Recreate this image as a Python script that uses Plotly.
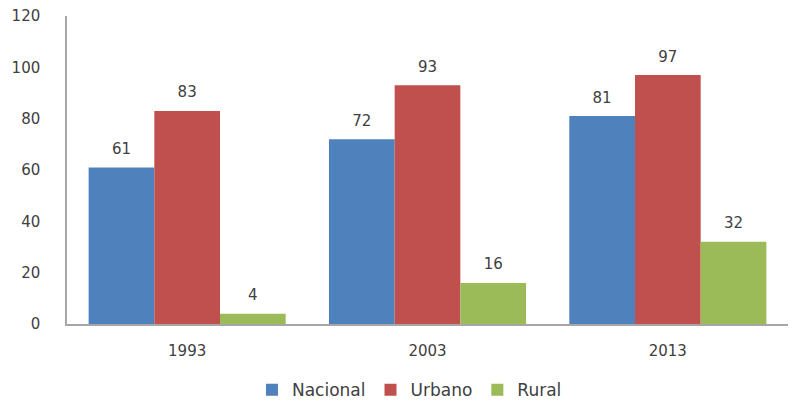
import plotly.graph_objects as go

years = ['1993', '2003', '2013']
nacional = [61, 72, 81]
urbano = [83, 93, 97]
rural = [4, 16, 32]

series = [
    ('Nacional', nacional, '#4F81BD'),
    ('Urbano', urbano, '#C0504D'),
    ('Rural', rural, '#9BBB59'),
]

fig = go.Figure()
for i, (name, vals, color) in enumerate(series):
    fig.add_trace(go.Bar(
        x=years, y=vals, name=name, marker_color=color,
        marker_line_width=0, offsetgroup=str(i),
    ))
for i, (name, vals, color) in enumerate(series):
    # value labels sit a bit higher than plotly's own "outside" text
    fig.add_trace(go.Scatter(
        x=years, y=vals, mode='markers+text', offsetgroup=str(i),
        text=[str(v) for v in vals], textposition='top center',
        marker=dict(size=14, color='rgba(0,0,0,0)'),
        textfont=dict(color='#404040', size=15),
        showlegend=False, hoverinfo='skip', cliponaxis=False,
    ))

# page has an 8px body margin, so the figure is narrowed to fit the window
fig.update_layout(
    width=780, height=402,
    barmode='group', bargap=0.18, bargroupgap=0,
    scattermode='group', scattergap=0.18,
    plot_bgcolor='white', paper_bgcolor='white',
    font=dict(family='DejaVu Sans', color='#404040', size=15),
    margin=dict(l=59, r=0, t=8, b=86, autoexpand=False),
    showlegend=True,
    legend=dict(
        orientation='h', x=0.475, xanchor='center', y=-0.215, yanchor='middle',
        font=dict(size=17), itemwidth=30, traceorder='normal',
    ),
)
fig.update_yaxes(
    range=[0, 120], dtick=20, showgrid=False, zeroline=False,
    showline=True, linecolor='#A6A6A6', linewidth=1.5,
    ticks='', ticklabelstandoff=22, automargin=False, ticklabeloverflow='allow',
)
fig.update_xaxes(
    showgrid=False, showline=True, linecolor='#A6A6A6', linewidth=1.5,
    ticks='', ticklabelstandoff=12, automargin=False,
)

fig.write_html("out.html")
